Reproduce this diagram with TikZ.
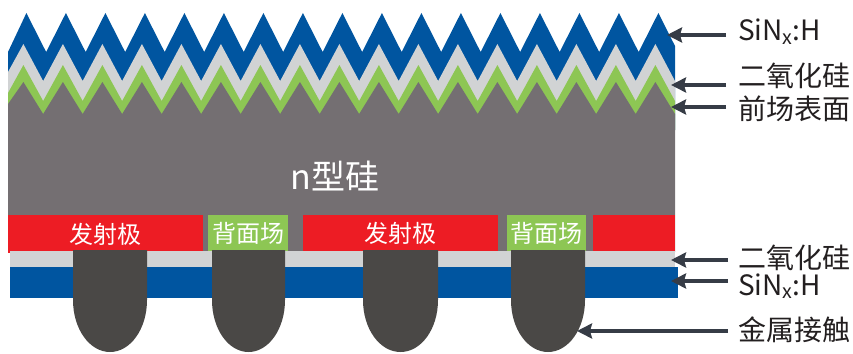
\documentclass[tikz,border=0pt]{standalone}
\usepackage{fontspec}
\newfontfamily\cjk{Noto Sans CJK SC}
\usetikzlibrary{arrows.meta}

\definecolor{nitride}{RGB}{0,85,160}
\definecolor{oxide}{RGB}{209,211,212}
\definecolor{fsf}{RGB}{141,198,84}
\definecolor{silicon}{RGB}{116,111,114}
\definecolor{emitter}{RGB}{237,28,36}
\definecolor{metal}{RGB}{74,72,70}
\definecolor{pointer}{RGB}{54,60,70}
\definecolor{ink}{RGB}{35,31,32}

\begin{document}
\begin{tikzpicture}[x=1pt,y=-1pt,
  region/.style={inner sep=0pt,outer sep=0pt,anchor=north west,text=white,
    font=\cjk\fontsize{24}{26}\selectfont},
  emitbox/.style={region,fill=emitter},
  bsfbox/.style={region,fill=fsf},
  label/.style={inner sep=0pt,outer sep=0pt,anchor=west,text=ink,
    font=\cjk\fontsize{28}{30}\selectfont},
  pointerline/.style={draw=pointer,line width=4pt,
    -{Stealth[length=15pt,width=15pt,inset=2pt]}},
  contactshape/.style={fill=metal}]
\useasboundingbox (0,0) rectangle (853,353);

% --- textured front: SiNx:H, oxide, front surface field, n-type bulk ---
\fill[nitride] (8,52)
  \foreach \k in {0,...,15}{ -- ({26.4+39.5*\k},13) -- ({46.15+39.5*\k},52) }
  -- (658.4,13) -- (675,46) -- (675,130) -- (8,130) -- cycle;
\fill[oxide] (8,72)
  \foreach \k in {0,...,15}{ -- ({23.4+39.5*\k},44) -- ({43.15+39.5*\k},81) }
  -- (655.4,44) -- (675,81) -- (675,130) -- (8,130) -- cycle;
\fill[fsf] (8,93)
  \foreach \k in {0,...,15}{ -- ({23.4+39.5*\k},65) -- ({43.15+39.5*\k},101) }
  -- (655.4,65) -- (675,101) -- (675,130) -- (8,130) -- cycle;
\fill[silicon] (8,104)
  \foreach \k in {0,...,15}{ -- ({23.4+39.5*\k},82) -- ({43.15+39.5*\k},114) }
  -- (655.4,82) -- (675,114) -- (675,252) -- (8,252) -- cycle;

\node[inner sep=0pt,text=white,font=\cjk\fontsize{34}{36}\selectfont]
  (bulk) at (335,176) {n型硅};

% --- rear side: emitters and back surface fields ---
\node[emitbox,minimum width=195pt,minimum height=38pt] (e1) at (8,215) {发射极};
\node[bsfbox,minimum width=80pt,minimum height=37pt] (b1) at (208,215) {背面场};
\node[emitbox,minimum width=195pt,minimum height=37pt] (e2) at (303,215) {发射极};
\node[bsfbox,minimum width=79pt,minimum height=37pt] (b2) at (507,215) {背面场};
\node[emitbox,minimum width=82pt,minimum height=37pt] (e3) at (593,215) {};

% rear passivation stack
\fill[oxide] (10,251) rectangle (675,267);
\fill[nitride] (10,267) rectangle (678,298);

% --- metal contacts ---
\foreach \xa/\xb in {73/147, 212/285, 363/438, 511/585}{
  \pgfmathsetmacro\xc{(\xa+\xb)/2}
  \pgfmathsetmacro\rx{(\xb-\xa)/2}
  \fill[contactshape] (\xa,250) -- (\xa,300)
    .. controls (\xa,329) and ({\xc-0.552*\rx},352) .. (\xc,352)
    .. controls ({\xc+0.552*\rx},352) and (\xb,329) .. (\xb,300)
    -- (\xb,250) -- cycle;
}

% --- labels and pointers ---
\node[label,anchor=base west] (lnit1) at (738,40.5) {SiN\textsubscript{x}:H};
\node[label] (lox1) at (738,76) {二氧化硅};
\node[label] (lfsf) at (738,109) {前场表面};
\node[label] (lox2) at (738,257.5) {二氧化硅};
\node[label,anchor=base west] (lnit2) at (738,295) {SiN\textsubscript{x}:H};
\node[label] (lmet) at (738,330) {金属接触};

\coordinate (s1) at (726,35);  \coordinate (t1) at (667,35);
\coordinate (s2) at (726,85);  \coordinate (t2) at (671,85);
\coordinate (s3) at (726,107); \coordinate (t3) at (671,107);
\coordinate (s4) at (728,260); \coordinate (t4) at (671,260);
\coordinate (s5) at (728,281); \coordinate (t5) at (671,281);
\coordinate (s6) at (728,331); \coordinate (t6) at (577,331);
\foreach \i in {1,...,6}{ \draw[pointerline] (s\i) -- (t\i); }
\end{tikzpicture}
\end{document}
